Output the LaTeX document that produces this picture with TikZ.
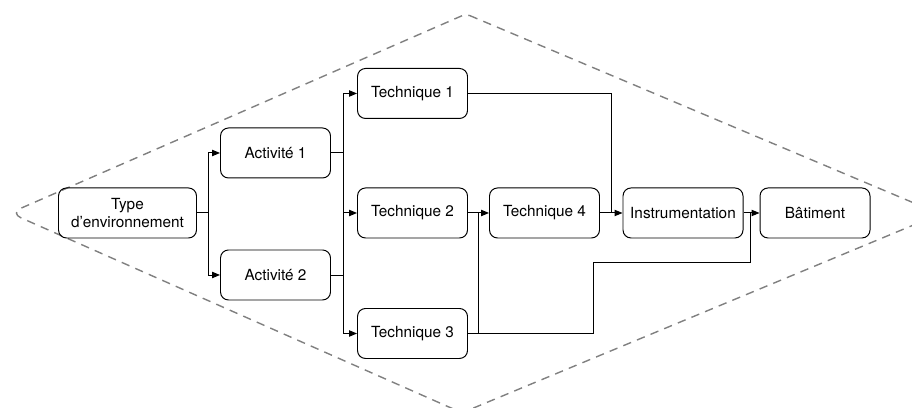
\documentclass[tikz,border=0pt]{standalone}
\usepackage{fontspec}
\setmainfont{TeX Gyre Heros}
\usepackage{tikz}
\usetikzlibrary{arrows.meta,calc,positioning,shapes}

\begin{document}
\begin{tikzpicture}[
		bloc/.style={draw, rounded corners=2mm, line width=0.7pt, minimum height=1.25cm, minimum width=2.75cm, align=center, inner sep=1pt, font=\fontsize{10.9pt}{12.6pt}\selectfont},
		lien/.style={line width=0.7pt},
		>={Triangle[length=2mm,width=1.6mm]} % fleches pleines
		]
		
		% Le cadre
		\useasboundingbox (0,0) rectangle (22.8,10.2);
		\clip (0,0) rectangle (22.8,10.2);
		\draw[gray, line width=1pt, dash pattern=on 6pt off 4.5pt]
			(11.65,9.85) [rounded corners=1mm] -- (23.5,4.85) -- (11.55,-0.12)
			[rounded corners=3mm] -- (0.25,4.875) [rounded corners=1mm] -- cycle;
		
		% Les blocs
		\node[bloc, minimum width=3.45cm] (type) at (3.1875, 4.875) {Type\\d’environnement};
		\node[bloc] (act1) at (6.8875, 6.375) {Activité 1};
		\node[bloc] (act2) at (6.8875, 3.325) {Activité 2};
		\node[bloc] (tech1) at (10.3125, 7.8625) {Technique 1};
		\node[bloc] (tech2) at (10.3125, 4.875) {Technique 2};
		\node[bloc] (tech3) at (10.3125, 1.8625) {Technique 3};
		\node[bloc] (tech4) at (13.6125, 4.875) {Technique 4};
		\node[bloc, minimum width=3cm] (instr) at (17.075, 4.875) {Instrumentation};
		\node[bloc] (bat) at (20.375, 4.875) {Bâtiment};
		
		% Les points de jonction
		\coordinate (j1) at (5.2, 4.875);
		\coordinate (j2) at (8.575, 4.875);
		\coordinate (j3) at (11.95, 4.875);
		\coordinate (j4) at (14.825, 3.65);
		\coordinate (j5) at (18.75, 4.875);
		\coordinate (j6) at (15.275, 4.875);
		
		% Les liens
		\draw[lien] (type) -- (j1);
		\draw[lien, ->] (j1) |- (act1);
		\draw[lien, ->] (j1) |- (act2);
		\draw[lien] (act1) -| (j2);
		\draw[lien] (act2) -| (j2);
		\draw[lien, ->] (j2) |- (tech1);
		\draw[lien, ->] (j2) -- (tech2);
		\draw[lien, ->] (j2) |- (tech3);
		\draw[lien, ->] (tech2) -- (tech4);
		\draw[lien] (tech3) -| (j3);
		\draw[lien] (tech3) -| (j4) -| (j5);
		\draw[lien] (tech1) -| (j6);
		\draw[lien, ->] (tech4) -- (instr);
		\draw[lien, ->] (instr) -- (bat);
	\end{tikzpicture}
\end{document}
